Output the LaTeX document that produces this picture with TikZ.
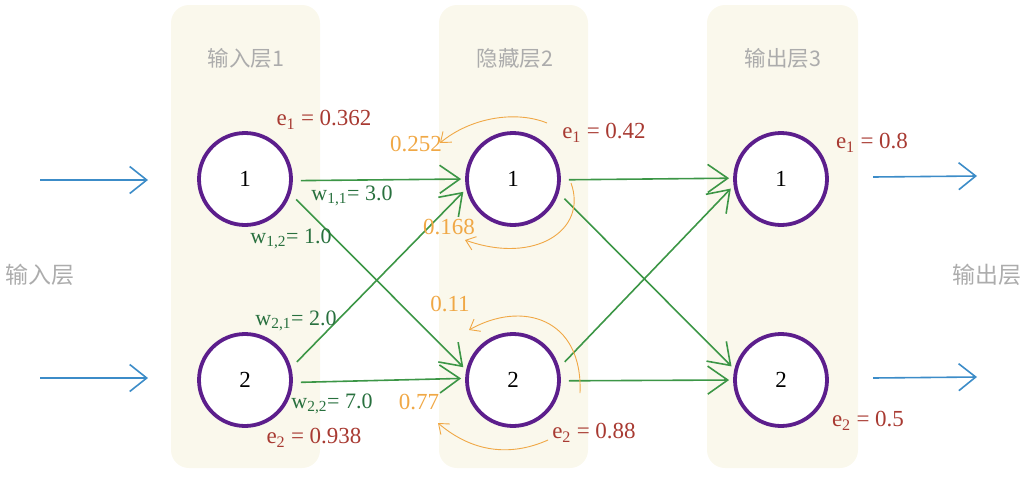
\documentclass[tikz,border=0pt]{standalone}
\usepackage{fontspec}
\setmainfont{Liberation Serif}
\newfontfamily\cjk{Noto Sans CJK SC}
\usetikzlibrary{arrows.meta}
\definecolor{panelfill}{RGB}{250,248,236}
\definecolor{nodepurple}{RGB}{92,30,140}
\definecolor{lblred}{RGB}{168,58,50}
\definecolor{lblgreen}{RGB}{40,112,62}
\definecolor{arrgreen}{RGB}{60,150,70}
\definecolor{arrblue}{RGB}{60,140,200}
\definecolor{lblorange}{RGB}{240,168,70}
\definecolor{titlegray}{RGB}{172,172,172}
\tikzset{
  panel/.style={fill=panelfill, draw=none, rounded corners=18pt},
  neuron/.style={circle, draw=nodepurple, line width=3.8pt, fill=white, minimum size=92pt, inner sep=0pt, font=\fontsize{23}{26}\selectfont},
  garrow/.style={draw=arrgreen, line width=1.6pt, shorten <=8pt, shorten >=4pt, -{Straight Barb[length=20pt,width=28pt,line width=1.6pt]}},
  barrow/.style={draw=arrblue, line width=1.6pt, -{Straight Barb[length=17pt,width=27pt,line width=1.6pt]}},
  oarrow/.style={draw=lblorange, line width=0.9pt, -{Straight Barb[length=9pt,width=14pt,line width=0.9pt]}},
  elbl/.style={text=lblred, font=\fontsize{23}{26}\selectfont, inner sep=0pt},
  wlbl/.style={text=lblgreen, font=\fontsize{22}{26}\selectfont, inner sep=0pt},
  olbl/.style={text=lblorange, font=\fontsize{23}{26}\selectfont, inner sep=0pt},
  ttl/.style={text=titlegray, font=\cjk\fontsize{21.5}{25}\selectfont, inner sep=0pt},
  sidettl/.style={text=titlegray, font=\cjk\fontsize{23}{26}\selectfont, inner sep=0pt},
}
\begin{document}
\begin{tikzpicture}[x=1pt,y=-1pt]
\useasboundingbox (0,0) rectangle (1025,485);
% panels
\fill[panel] (171,5) rectangle (320,468);
\fill[panel] (439,5) rectangle (588,468);
\fill[panel] (707,5) rectangle (858,468);
% titles
\node[ttl] (t1) at (246,58) {输入层1};
\node[ttl] (t2) at (515,58) {隐藏层2};
\node[ttl] (t3) at (783,58) {输出层3};
\node[sidettl] (sin) at (40,275) {输入层};
\node[sidettl] (sout) at (987,275) {输出层};
% neurons
\node[neuron] (a1) at (245,179) {1};
\node[neuron] (a2) at (245,380) {2};
\node[neuron] (b1) at (513,179) {1};
\node[neuron] (b2) at (513,380) {2};
\node[neuron] (c1) at (781,179) {1};
\node[neuron] (c2) at (781,380) {2};
% green connectors
\draw[garrow] (a1.-2) -- (b1.180);
\draw[garrow] (a1.-18) -- (b2.168);
\draw[garrow] (a2.15) -- (b1.192);
\draw[garrow] (a2.-3) -- (b2.178);
\draw[garrow] (b1.-1) -- (c1.179);
\draw[garrow] (b1.-17) -- (c2.167);
\draw[garrow] (b2.15) -- (c1.188);
\draw[garrow] (b2.-1) -- (c2.180);
% blue input/output arrows
\coordinate (i1s) at (40,180); \coordinate (i1e) at (148,180);
\coordinate (i2s) at (40,378); \coordinate (i2e) at (148,378);
\coordinate (o1s) at (873,177); \coordinate (o1e) at (977,176);
\coordinate (o2s) at (873,378); \coordinate (o2e) at (977,377);
\draw[barrow] (i1s) -- (i1e);
\draw[barrow] (i2s) -- (i2e);
\draw[barrow] (o1s) -- (o1e);
\draw[barrow] (o2s) -- (o2e);
% labels
\node[elbl] (e11) at (324,120) {e\textsubscript{1} = 0.362};
\node[elbl] (e12) at (314,438) {e\textsubscript{2} = 0.938};
\node[elbl] (e21) at (604,133) {e\textsubscript{1} = 0.42};
\node[elbl] (e22) at (594,433) {e\textsubscript{2} = 0.88};
\node[elbl] (e31) at (872,143) {e\textsubscript{1} = 0.8};
\node[elbl] (e32) at (868,421) {e\textsubscript{2} = 0.5};
\node[wlbl] (w11) at (352,196) {w\textsubscript{1,1}= 3.0};
\node[wlbl] (w12) at (291,239) {w\textsubscript{1,2}= 1.0};
\node[wlbl] (w21) at (296,321) {w\textsubscript{2,1}= 2.0};
\node[wlbl] (w22) at (332,404) {w\textsubscript{2,2}= 7.0};
\node[olbl] (o252) at (416,144) {0.252};
\node[olbl] (o168) at (449,227) {0.168};
\node[olbl] (o11) at (450,304) {0.11};
\node[olbl] (o77) at (419,402) {0.77};
% orange back-propagation curves
\coordinate (p1s) at (547,123); \coordinate (p1e) at (440,143);
\coordinate (p2s) at (571,183); \coordinate (p2e) at (465,240);
\coordinate (p3s) at (580,393); \coordinate (p3e) at (469,330);
\coordinate (p4s) at (548,440); \coordinate (p4e) at (438,423);
\draw[oarrow] (p1s) .. controls (515,110) and (470,118) .. (p1e);
\draw[oarrow] (p2s) .. controls (588,230) and (535,265) .. (p2e);
\draw[oarrow] (p3s) .. controls (583,318) and (522,300) .. (p3e);
\draw[oarrow] (p4s) .. controls (510,457) and (472,452) .. (p4e);
\end{tikzpicture}
\end{document}
